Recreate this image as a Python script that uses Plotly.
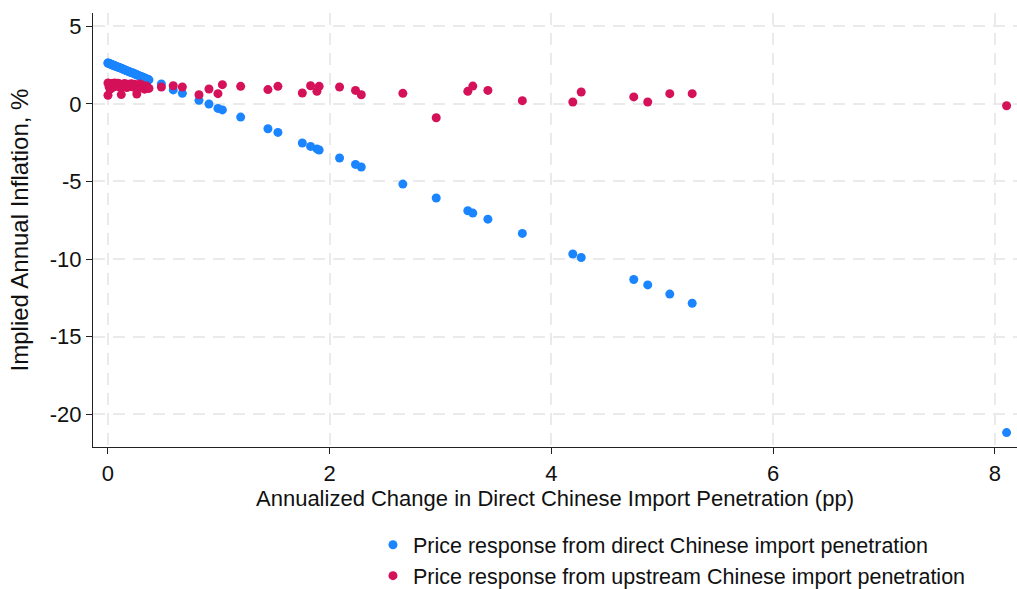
import plotly.graph_objects as go

# Annualized change in direct Chinese import penetration (pp), one entry per industry
import_change = [
    0.00, 0.00, 0.01, 0.01, 0.02, 0.02, 0.03, 0.04, 0.04, 0.05, 0.06, 0.06,
    0.07, 0.08, 0.09, 0.10, 0.10, 0.11, 0.12, 0.13, 0.14, 0.15, 0.16, 0.17,
    0.18, 0.19, 0.20, 0.21, 0.22, 0.23, 0.24, 0.25, 0.26, 0.27, 0.28, 0.29,
    0.30, 0.31, 0.32, 0.33, 0.34, 0.35, 0.36, 0.37,
    0.482, 0.589, 0.671, 0.821, 0.911, 0.992, 1.032, 1.197, 1.443, 1.533,
    1.753, 1.828, 1.885, 1.905, 2.089, 2.233, 2.285, 2.660, 2.961, 3.246,
    3.291, 3.427, 3.738, 4.193, 4.269, 4.743, 4.869, 5.068, 5.270, 8.106,
]

# Implied annual inflation (%) from direct Chinese import penetration
direct_response = [
    2.64, 2.63, 2.61, 2.60, 2.58, 2.57, 2.55, 2.52, 2.51, 2.49, 2.46, 2.46,
    2.43, 2.40, 2.38, 2.35, 2.34, 2.32, 2.29, 2.26, 2.23, 2.20, 2.17, 2.14,
    2.11, 2.08, 2.05, 2.02, 2.00, 1.97, 1.94, 1.91, 1.88, 1.85, 1.82, 1.79,
    1.76, 1.73, 1.70, 1.67, 1.64, 1.61, 1.58, 1.55,
    1.28, 0.90, 0.68, 0.23, -0.01, -0.29, -0.39, -0.85, -1.60, -1.84,
    -2.52, -2.74, -2.90, -2.97, -3.49, -3.90, -4.07, -5.17, -6.07, -6.89,
    -7.04, -7.43, -8.35, -9.68, -9.90, -11.32, -11.67, -12.26, -12.85, -21.19,
]

# Implied annual inflation (%) from upstream Chinese import penetration
upstream_response = [
    1.35, 0.56, 1.10, 1.25, 0.95, 1.30, 1.15, 1.32, 1.05, 1.22, 1.35, 1.12,
    1.28, 1.20, 1.33, 1.10, 1.30, 1.18, 0.60, 1.25, 1.10, 1.32, 1.15, 1.05,
    1.27, 1.20, 1.12, 1.30, 1.18, 1.08, 1.26, 1.14, 0.64, 1.22, 1.10, 1.28,
    1.05, 1.20, 1.12, 0.95, 1.08, 1.15, 1.02, 1.00,
    1.09, 1.17, 1.09, 0.59, 0.96, 0.66, 1.24, 1.13, 0.92, 1.13,
    0.70, 1.17, 0.81, 1.13, 1.09, 0.87, 0.59, 0.68, -0.89, 0.81,
    1.15, 0.87, 0.21, 0.12, 0.77, 0.45, 0.12, 0.66, 0.66, -0.12,
]

x_ticks = [0, 2, 4, 6, 8]
y_ticks = [5, 0, -5, -10, -15, -20]
y_tick_text = ["5", "0", "-5", "-10", "-15", "-20"]

BLUE = "#1A85FF"
RED = "#D41159"
FONT = "Liberation Sans, Arial, sans-serif"

fig = go.Figure()
fig.add_trace(go.Scatter(
    x=import_change, y=direct_response, mode="markers",
    name="Price response from direct Chinese import penetration",
    marker=dict(color=BLUE, size=9, line=dict(width=0)),
))
fig.add_trace(go.Scatter(
    x=import_change, y=upstream_response, mode="markers",
    name="Price response from upstream Chinese import penetration",
    marker=dict(color=RED, size=9, line=dict(width=0)),
))

axis_style = dict(showgrid=True, gridcolor="#EAEAEA", gridwidth=1.5,
                  griddash="12px,8px", zeroline=False, showline=True,
                  linecolor="#222222", linewidth=1.3, ticks="outside",
                  ticklen=6, tickwidth=1.2, tickcolor="#222222", mirror=False,
                  automargin=False, tickfont=dict(size=22))

fig.update_xaxes(range=[-0.135, 8.2], tickvals=x_ticks,
                 title=dict(text="Annualized Change in Direct Chinese Import Penetration (pp)",
                            standoff=5, font=dict(size=22)),
                 **axis_style)
fig.update_yaxes(range=[-22.12, 5.86], tickvals=y_ticks, ticktext=y_tick_text,
                 title=dict(text="Implied Annual Inflation, %", standoff=14,
                            font=dict(size=24)),
                 **axis_style)

fig.update_layout(
    width=1017, height=589,
    margin=dict(l=93, r=0, t=13, b=142, autoexpand=False),
    paper_bgcolor="white", plot_bgcolor="white",
    font=dict(family=FONT, size=22, color="#111111"),
    showlegend=True,
    legend=dict(x=0.303, y=-0.178, xanchor="left", yanchor="top",
                bgcolor="rgba(0,0,0,0)", font=dict(size=21.5)),
)

fig.write_html("out.html")
